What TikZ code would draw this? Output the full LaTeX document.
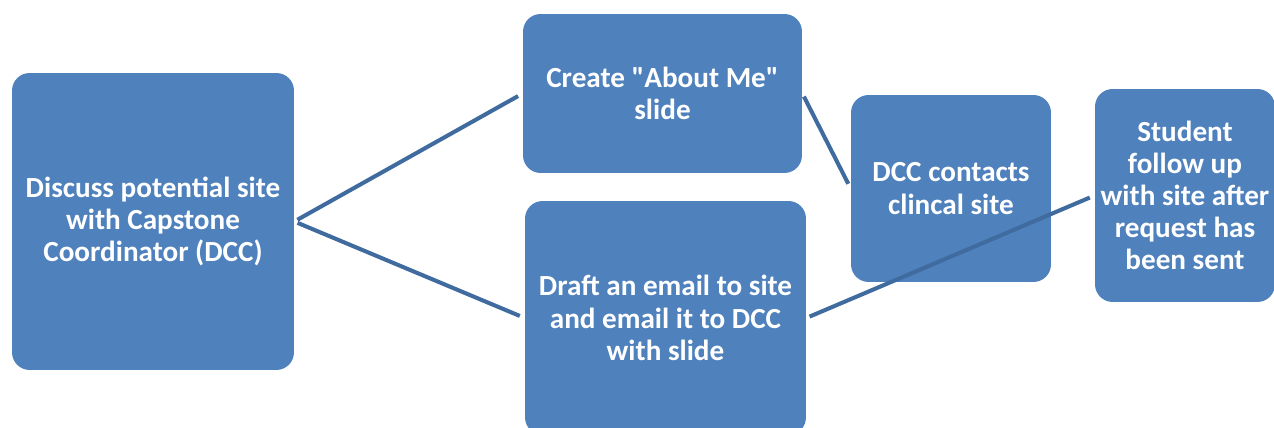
\documentclass[tikz,border=0pt]{standalone}
\usepackage{fontspec}
\setmainfont{Carlito}
\usepackage{xcolor}
\usetikzlibrary{positioning}
\definecolor{office}{HTML}{4F81BD}
\definecolor{wire}{HTML}{3F6B9F}

\begin{document}
\begin{tikzpicture}[
  x=0.02cm,
  y=0.02cm,
  step box/.style={fill=office, rounded corners=10pt, align=center, text=white,
    font=\bfseries\fontsize{16.6}{18.3}\selectfont, inner sep=0pt},
  link/.style={draw=wire, line width=2.3pt, shorten <=2pt, shorten >=3pt}
]
  \clip (0,0) rectangle (1274,428);
  \useasboundingbox (0,0) rectangle (1274,428);

  \node[step box, minimum width=5.64cm, minimum height=5.94cm] (discuss) at (153,206.5)
    {Discuss potential site\\with Capstone\\Coordinator (DCC)};
  \node[step box, minimum width=5.58cm, minimum height=3.18cm] (slide) at (662.5,334.5)
    {Create \textquotedbl About Me\textquotedbl\\slide};
  \node[step box, minimum width=5.62cm, minimum height=4.68cm] (draft) at (665.5,110)
    {Draft an email to site\\and email it to DCC\\with slide};
  \node[step box, minimum width=4.00cm, minimum height=3.74cm] (contact) at (951,239.5)
    {DCC contacts\\clincal site};
  \node[step box, minimum width=3.60cm, minimum height=4.26cm] (followup) at (1185,232.5)
    {Student\\follow up\\with site after\\request has\\been sent};

  \draw[link] (discuss.east) -- (slide.west);
  \draw[link] (discuss.east) -- (draft.west);
  \draw[link] (slide.east) -- (contact.west);
  \draw[link] (draft.east) -- (followup.west);
\end{tikzpicture}
\end{document}
